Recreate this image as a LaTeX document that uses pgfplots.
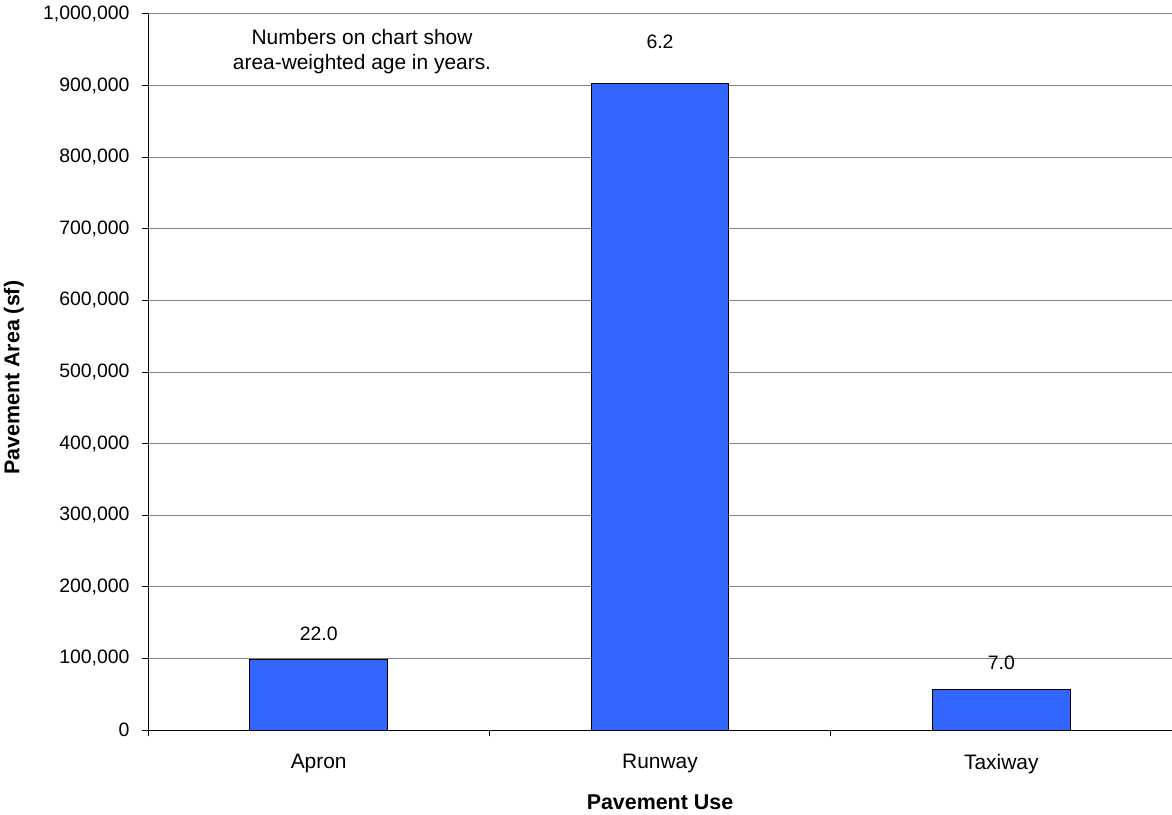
\documentclass[border=0pt]{standalone}
\usepackage{pgfplots}
\pgfplotsset{compat=1.18}
\usepackage{fontspec}
\setmainfont{Liberation Sans}
\definecolor{barblue}{HTML}{3366FF}
\definecolor{gridgray}{HTML}{808080}
\begin{document}
\begin{tikzpicture}
\begin{axis}[
  scale only axis,
  width=1024bp, height=716bp,
  xmin=-0.5, xmax=2.5,
  ymin=0, ymax=1000000,
  axis x line*=bottom, axis y line*=left,
  axis line style={black, line width=1pt},
  xtick={-0.5,0.5,1.5,2.5},
  x tick label as interval,
  xticklabels={Apron,Runway,Taxiway},
  ytick={0,100000,...,1000000},
  yticklabel={\pgfmathprintnumber[fixed,precision=0,1000 sep={,}]{\tick}},
  scaled y ticks=false,
  /pgf/number format/assume math mode=true,
  tick align=outside,
  major tick length=6bp,
  tick style={black, line width=1pt},
  ymajorgrids,
  grid style={gridgray, line width=1pt},
  yticklabel style={font=\fontsize{19.5}{23}\selectfont, xshift=-9bp},
  xticklabel style={font=\fontsize{21}{25}\selectfont, yshift=-14.5bp},
  ylabel={\textbf{Pavement Area (sf)}},
  xlabel={\textbf{Pavement Use}},
  label style={font=\fontsize{21.5}{25}\selectfont},
  ylabel style={at={(axis description cs:-0.1309,0.492)}, anchor=center},
  xlabel style={at={(axis description cs:0.5,-0.1006)}, anchor=center},
  clip=false,
]
\addplot[ybar, bar width=0.404, fill=barblue, draw=black, line width=1pt]
  coordinates {(0,98000) (1,903000) (2,57000)};
\addplot[draw=none, mark=none, nodes near coords, point meta=explicit symbolic,
  nodes near coords style={font=\fontsize{19.5}{23}\selectfont, anchor=south, yshift=16bp, text=black}]
  coordinates {(0,98000) [22.0] (2,57000) [7.0]};
\addplot[draw=none, mark=none, nodes near coords, point meta=explicit symbolic,
  nodes near coords style={font=\fontsize{19.5}{23}\selectfont, anchor=south, yshift=31bp, text=black}]
  coordinates {(1,903000) [6.2]};
\node[font=\fontsize{21}{25}\selectfont, align=center] at (axis cs:0.127,947000)
  {Numbers on chart show\\area-weighted age in years.};
\end{axis}
\path (current axis.south west) ++(-148bp,-84bp) coordinate (bl);
\path (current axis.north east) ++(0bp,14bp) coordinate (tr);
\pgfresetboundingbox
\useasboundingbox (bl) rectangle (tr);
\end{tikzpicture}
\end{document}
